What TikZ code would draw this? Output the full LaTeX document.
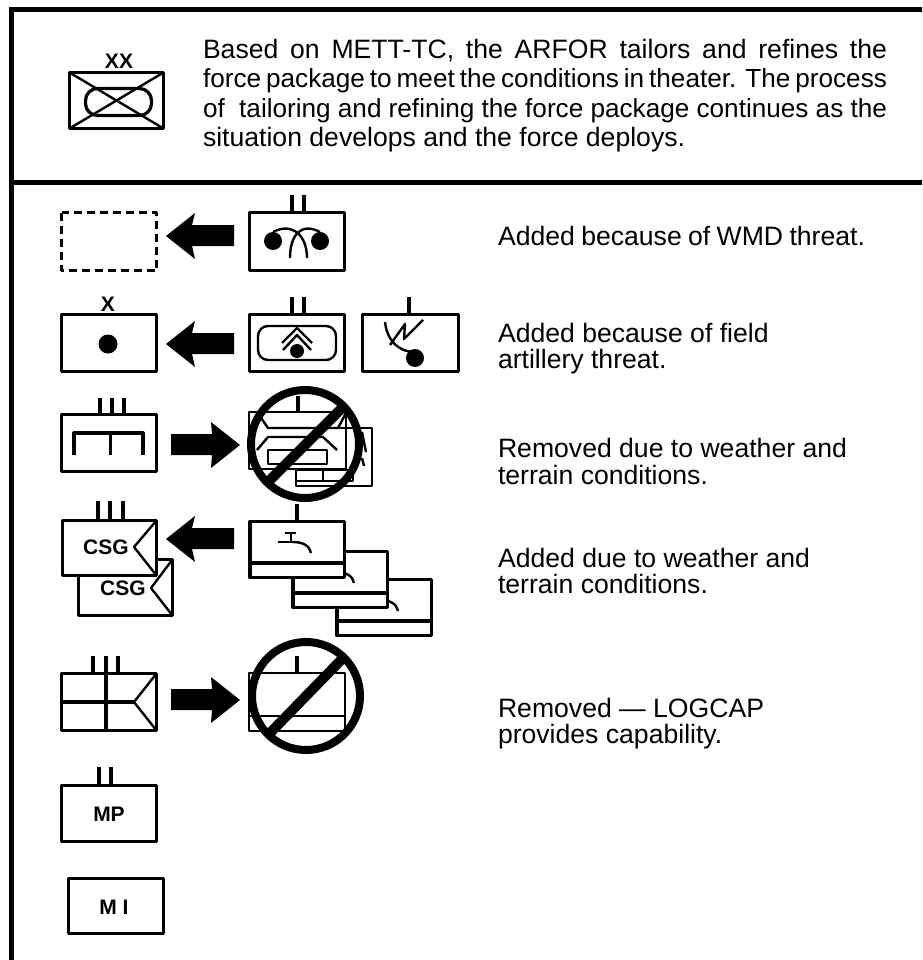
\documentclass[tikz,border=0pt]{standalone}
\usepackage{fontspec}
\setmainfont{Liberation Sans}
\newcommand{\txt}{\fontsize{26.6}{28}\selectfont}
\newcommand{\txtb}{\fontsize{26.15}{28}\selectfont}
\newcommand{\lbl}{\fontsize{21}{22}\selectfont\bfseries}
\tikzset{
  ln/.style={draw=black,line width=3.2pt,line join=round},
  thin/.style={draw=black,line width=2.4pt,line join=round},
  frame/.style={draw=black,line width=5pt},
  para/.style={anchor=base west,inner sep=0pt,outer sep=0pt},
  sym/.style={anchor=center,inner sep=0pt,outer sep=0pt},
  ring/.style={draw=black,line width=8pt},
  slash/.style={draw=black,line width=10pt},
}
\newcommand{\larrow}[1]{\fill[black,shift={(0,#1)}] (166,0)--(195,-23)--(192,-11)--(234,-11)--(234,10)--(192,10)--(195,23)--cycle;}
\newcommand{\rarrow}[1]{\fill[black,shift={(0,#1)}] (240,0)--(211,-23)--(212,-11)--(171,-11)--(171,10)--(212,10)--(211,23)--cycle;}
\newcommand{\tapbox}[2]{%
  \begin{scope}[shift={(#1,#2)}]
    \filldraw[ln,fill=white] (250,521.5) rectangle (344.5,577.5);
    \draw[ln] (250,563)--(344.5,563);
    \draw[thin] (285,533)--(296,533) (291,533)--(291,542) (278,542)--(293,542);
    \draw[thin] (293,542) .. controls (303,542) and (310,546) .. (311,553);
  \end{scope}}
\begin{document}
\begin{tikzpicture}[x=1pt,y=-1pt]
\useasboundingbox (0,0) rectangle (922,960);
\fill[white] (0,0) rectangle (922,960);
% frame
\draw[frame] (922,9.5)--(11.5,9.5)--(11.5,960);
\draw[frame] (11.5,182.5)--(922,182.5);
% top symbol
\draw[ln] (69.5,72.5) rectangle (163.5,128.5);
\draw[thin] (69.5,72.5)--(163.5,128.5) (69.5,128.5)--(163.5,72.5);
\draw[ln,rounded corners=12pt] (85.5,88.5) rectangle (151.5,115.5);
\node[sym,font=\lbl] (xx) at (119,61) {XX};
% top text
\node[para,font=\txt] (t1) at (203,59) {\makebox[684pt][s]{Based on METT-TC, the ARFOR tailors and refines the}};
\node[para,font=\txtb] (t2) at (203,88) {\makebox[684pt][s]{force package to meet the conditions in theater. The process}};
\node[para,font=\txtb] (t3) at (203,118) {\makebox[684pt][s]{of \ tailoring and refining the force package continues as the}};
\node[para,font=\txt] (t4) at (203,147) {situation develops and the force deploys.};
% row 1
\draw[ln,dash pattern=on 8pt off 5pt] (61.5,212.5) rectangle (156.5,270.5);
\larrow{236}
\draw[ln] (249.5,212.5) rectangle (344.5,270.5);
\draw[ln] (292,195)--(292,212) (304,195)--(304,212);
\fill (273,241) circle[radius=9];
\fill (320,241) circle[radius=9];
\draw[thin] (273,232) .. controls (292,222) and (307,235) .. (307,258);
\draw[thin] (320,232) .. controls (301,222) and (290,235) .. (290,258);
\node[para,font=\txt] (r1) at (498,245) {\makebox[367pt][s]{Added because of WMD threat.}};
% row 2
\node[sym,font=\lbl] (xone) at (108,304) {X};
\draw[ln] (61.5,314.5) rectangle (156.5,371.5);
\fill (108,344) circle[radius=9.5];
\larrow{344}
\draw[ln] (249.5,314.5) rectangle (344.5,371.5);
\draw[ln] (292,297)--(292,314) (304,297)--(304,314);
\draw[thin,rounded corners=10pt] (258,326) rectangle (336,360);
\fill (297,351) circle[radius=7];
\draw[thin] (282,343)--(297,328)--(312,343);
\draw[thin] (283,350)--(297,335)--(311,350);
\draw[ln] (362.5,314.5) rectangle (458.5,371.5);
\draw[ln] (409,297)--(409,314);
\draw[thin] (390,345)--(405,324)--(404,339)--(423,320);
\draw[thin] (385,322) .. controls (387,340) and (398,352) .. (415,352);
\fill (415,358) circle[radius=9];
\node[para,font=\txt] (r2a) at (498,342) {Added because of field};
\node[para,font=\txt] (r2b) at (498,368) {artillery threat.};
% row 3
\draw[ln] (61.5,414.5) rectangle (156.5,471.5);
\draw[ln] (100,398)--(100,414) (112,398)--(112,414) (124,398)--(124,414);
\draw[ln] (74,455)--(74,433)--(143,433)--(143,455) (110.5,433)--(110.5,455);
\rarrow{445}
\draw[thin] (296,428) -- (372,428) -- (372,486) -- (296,486) -- (296,470);
\draw[thin] (296,470) rectangle (353,481);
\draw[thin] (323,470)--(323,481);
\draw[thin] (362,432)--(366,452) (362,458)--(364,466);
\draw[thin] (249,412) rectangle (346,469);
\draw[ln] (298,396)--(298,412);
\draw[thin] (257,412)--(268,428)--(338,428)--(346,413);
\draw[thin] (257,450)--(268,437)--(323,437)--(337,450);
\draw[thin] (268,450) rectangle (327,464);
\draw[ring] (305,444) circle[radius=54];
\draw[slash] (268,482)--(342,408);
\node[para,font=\txt] (r3a) at (498,457) {Removed due to weather and};
\node[para,font=\txt] (r3b) at (498,484) {terrain conditions.};
% row 4
\tapbox{87}{58}
\tapbox{43}{30}
\tapbox{0}{0}
\draw[ln] (297,504)--(297,521);
\draw[ln] (78.5,559.5) rectangle (172.5,615.5);
\draw[thin] (172.5,559.5)--(151,588)--(172.5,615.5);
\node[sym,font=\lbl] (csgb) at (123,588) {CSG};
\filldraw[ln,fill=white] (62.5,520.5) rectangle (156.5,575.5);
\draw[thin] (156.5,520.5)--(134,547)--(156.5,575.5);
\draw[ln] (98,501)--(98,520) (110,501)--(110,520) (123,501)--(123,520);
\node[sym,font=\lbl] (csga) at (106,547) {CSG};
\larrow{539}
\node[para,font=\txt] (r4a) at (498,567) {Added due to weather and};
\node[para,font=\txt] (r4b) at (498,593) {terrain conditions.};
% row 5
\draw[ln] (61.5,673.5) rectangle (156.5,730.5);
\draw[ln] (93,656)--(93,673) (106,656)--(106,673) (118,656)--(118,673);
\draw[ln] (106,673.5)--(106,730.5) (61.5,702)--(134,702);
\draw[thin] (156.5,673.5)--(134,702)--(156.5,730.5);
\rarrow{700}
\draw[thin] (249,673) rectangle (345,731);
\draw[thin] (249,716)--(345,716);
\draw[ln] (297,656)--(297,673);
\draw[ring] (306,696) circle[radius=54];
\draw[slash] (270,733)--(343,658);
\node[para,font=\txt] (r5a) at (498,717) {Removed — LOGCAP};
\node[para,font=\txt] (r5b) at (498,743) {provides capability.};
% MP, MI
\draw[ln] (61.5,785.5) rectangle (156.5,841.5);
\draw[ln] (99,767)--(99,785) (111,767)--(111,785);
\node[sym,font=\lbl] (mp) at (109,814) {MP};
\draw[ln] (68.5,878.5) rectangle (163.5,933.5);
\node[sym,font=\lbl] (mi) at (114,907) {M I};
\end{tikzpicture}
\end{document}
